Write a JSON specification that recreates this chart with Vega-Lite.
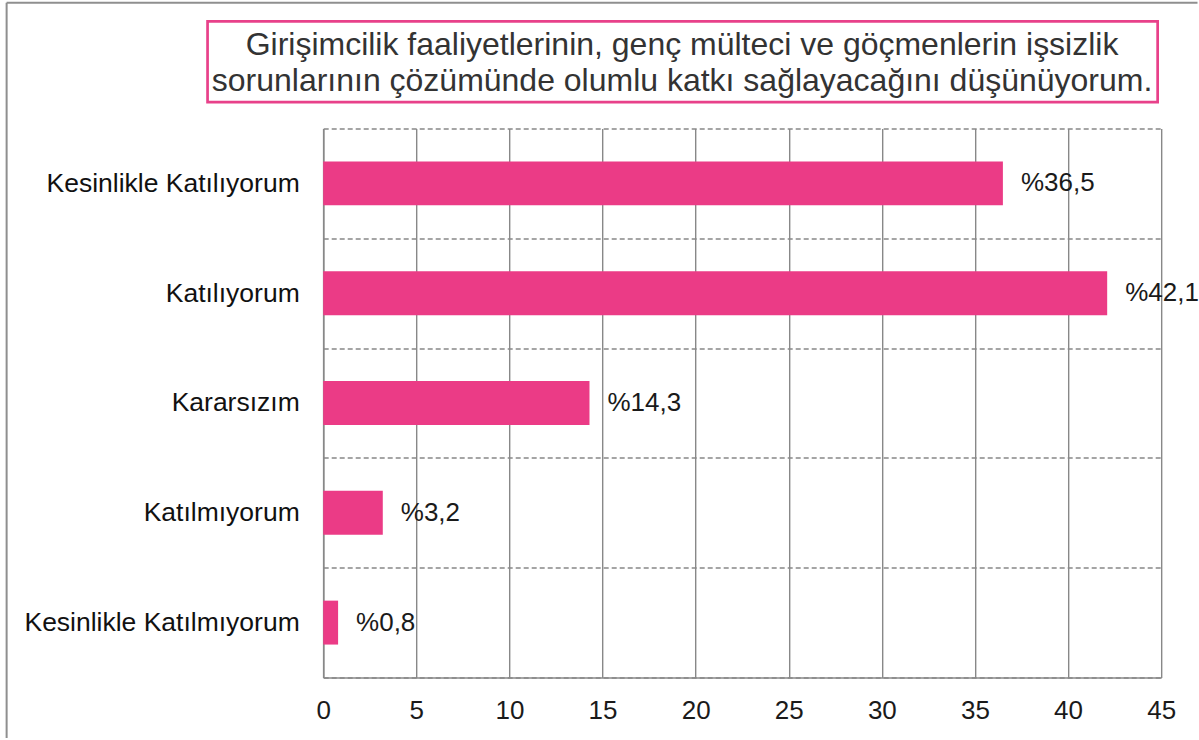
{
  "$schema": "https://vega.github.io/schema/vega-lite/v6.json",
  "width": 838,
  "height": 549,
  "autosize": {"type": "pad"},
  "padding": {"left": 5.2, "top": 1.5, "right": 0, "bottom": 0},
  "background": "white",
  "config": {"view": {"stroke": null}, "font": "Liberation Sans"},
  "data": {
    "values": [
      {"cat": "Kesinlikle Katılıyorum", "value": 36.5, "label": "%36,5"},
      {"cat": "Katılıyorum", "value": 42.1, "label": "%42,1"},
      {"cat": "Kararsızım", "value": 14.3, "label": "%14,3"},
      {"cat": "Katılmıyorum", "value": 3.2, "label": "%3,2"},
      {"cat": "Kesinlikle Katılmıyorum", "value": 0.8, "label": "%0,8"}
    ]
  },
  "layer": [
    {
      "encoding": {
        "y": {
          "field": "cat", "type": "nominal", "sort": null,
          "scale": {"paddingInner": 0, "paddingOuter": 0},
          "axis": {
            "title": null, "ticks": false, "tickSize": 0, "labelPadding": 24,
            "labelFontSize": 26.5, "labelColor": "#111111", "labelLimit": 400,
            "grid": true, "gridDash": [5, 3], "gridColor": "#888888", "gridWidth": 1.4,
            "tickBand": "extent", "domain": true, "domainColor": "#888888", "domainWidth": 1.6
          }
        },
        "x": {
          "field": "value", "type": "quantitative",
          "scale": {"domain": [0, 45], "nice": false, "zero": true},
          "axis": {
            "title": null, "values": [0, 5, 10, 15, 20, 25, 30, 35, 40, 45],
            "ticks": false, "tickSize": 0, "labelPadding": 20, "labelFontSize": 26,
            "labelColor": "#1a1a1a", "labelFlush": false,
            "grid": true, "gridColor": "#888888", "gridWidth": 1.4,
            "domainColor": "#888888", "domainWidth": 1.6
          }
        }
      },
      "layer": [
        {"mark": {"type": "bar", "height": {"band": 0.4}, "color": "#EB3B86"}},
        {
          "mark": {"type": "text", "align": "left", "baseline": "middle", "dx": 18, "fontSize": 26, "color": "#1a1a1a"},
          "encoding": {"text": {"field": "label"}}
        }
      ]
    },
    {
      "data": {"values": [{}]},
      "mark": {"type": "rect", "filled": false, "color": "#E8418A", "strokeWidth": 2.7},
      "encoding": {
        "x": {"datum": -6.21, "type": "quantitative", "scale": {"domain": [0, 45], "nice": false}},
        "x2": {"datum": 44.81},
        "y": {"datum": 11.95, "type": "quantitative", "scale": {"domain": [0, 10], "nice": false, "zero": false}, "axis": null},
        "y2": {"datum": 10.48}
      }
    },
    {
      "data": {"values": [{}]},
      "mark": {
        "type": "text", "align": "center", "baseline": "middle", "fontSize": 32, "lineHeight": 36, "color": "#333333",
        "text": ["Girişimcilik faaliyetlerinin, genç mülteci ve göçmenlerin işsizlik", "sorunlarının çözümünde olumlu katkı sağlayacağını düşünüyorum."]
      },
      "encoding": {
        "x": {"datum": 19.27, "type": "quantitative", "scale": {"domain": [0, 45], "nice": false}},
        "y": {"datum": 11.52, "type": "quantitative", "scale": {"domain": [0, 10], "nice": false, "zero": false}, "axis": null}
      }
    },
    {
      "data": {"values": [{}]},
      "mark": {"type": "rule", "color": "#8f8f8f", "strokeWidth": 2},
      "encoding": {
        "x": {"datum": -17.0, "type": "quantitative", "scale": {"domain": [0, 45], "nice": false}},
        "y": {"datum": 12.29, "type": "quantitative", "scale": {"domain": [0, 10], "nice": false, "zero": false}, "axis": null},
        "y2": {"datum": -1.1}
      }
    },
    {
      "data": {"values": [{}]},
      "mark": {"type": "rule", "color": "#8f8f8f", "strokeWidth": 2},
      "encoding": {
        "x": {"datum": -17.0, "type": "quantitative", "scale": {"domain": [0, 45], "nice": false}},
        "x2": {"datum": 46.95},
        "y": {"datum": 12.29, "type": "quantitative", "scale": {"domain": [0, 10], "nice": false, "zero": false}, "axis": null}
      }
    }
  ],
  "resolve": {"scale": {"y": "independent"}}
}
